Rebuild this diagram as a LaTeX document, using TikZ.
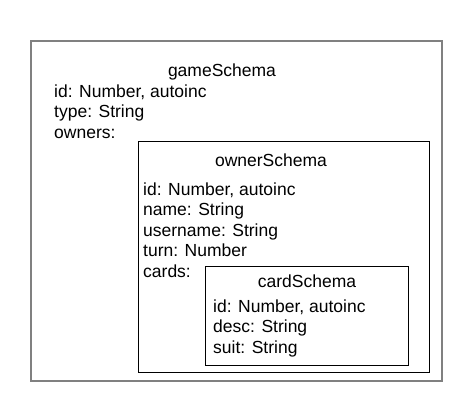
\documentclass[tikz,border=0pt]{standalone}
\usepackage{fontspec}
\setmainfont{Liberation Sans}
\usetikzlibrary{positioning}

\begin{document}
\begin{tikzpicture}[x=1pt, y=-1pt,
            every node/.style={inner sep=0pt, font=\fontsize{17.5}{20.5}\selectfont}, % same text size everywhere
            outerbox/.style={draw=gray, line width=1.6pt, anchor=north west}, % the grey frame
            schemabox/.style={draw=black, line width=0.9pt, fill=white, anchor=north west}, % nested schemas
            fields/.style={align=left, anchor=base west}, % placed at the baseline of the last line
        ]
        \useasboundingbox (0,0) rectangle (470,400);

        \node (game)  [outerbox, minimum width=411, minimum height=340]  at (30,40)   {};
        \node (owner) [schemabox, minimum width=291, minimum height=231] at (138,141) {};
        \node (card)  [schemabox, minimum width=203, minimum height=99]  at (205,266) {};

        \node (gametitle)  [anchor=base] at (222,76)  {gameSchema};
        \node (gamefields) [fields]      at (54,138)  {id: Number, autoinc\\type: String\\owners:};

        \node (ownertitle)  [anchor=base] at (271,166) {ownerSchema};
        \node (ownerfields) [fields]      at (143,277) {id: Number, autoinc\\name: String\\username: String\\turn: Number\\cards:};

        \node (cardtitle)  [anchor=base] at (307,287) {cardSchema};
        \node (cardfields) [fields]      at (213,353) {id: Number, autoinc\\desc: String\\suit: String};
    \end{tikzpicture}
\end{document}
